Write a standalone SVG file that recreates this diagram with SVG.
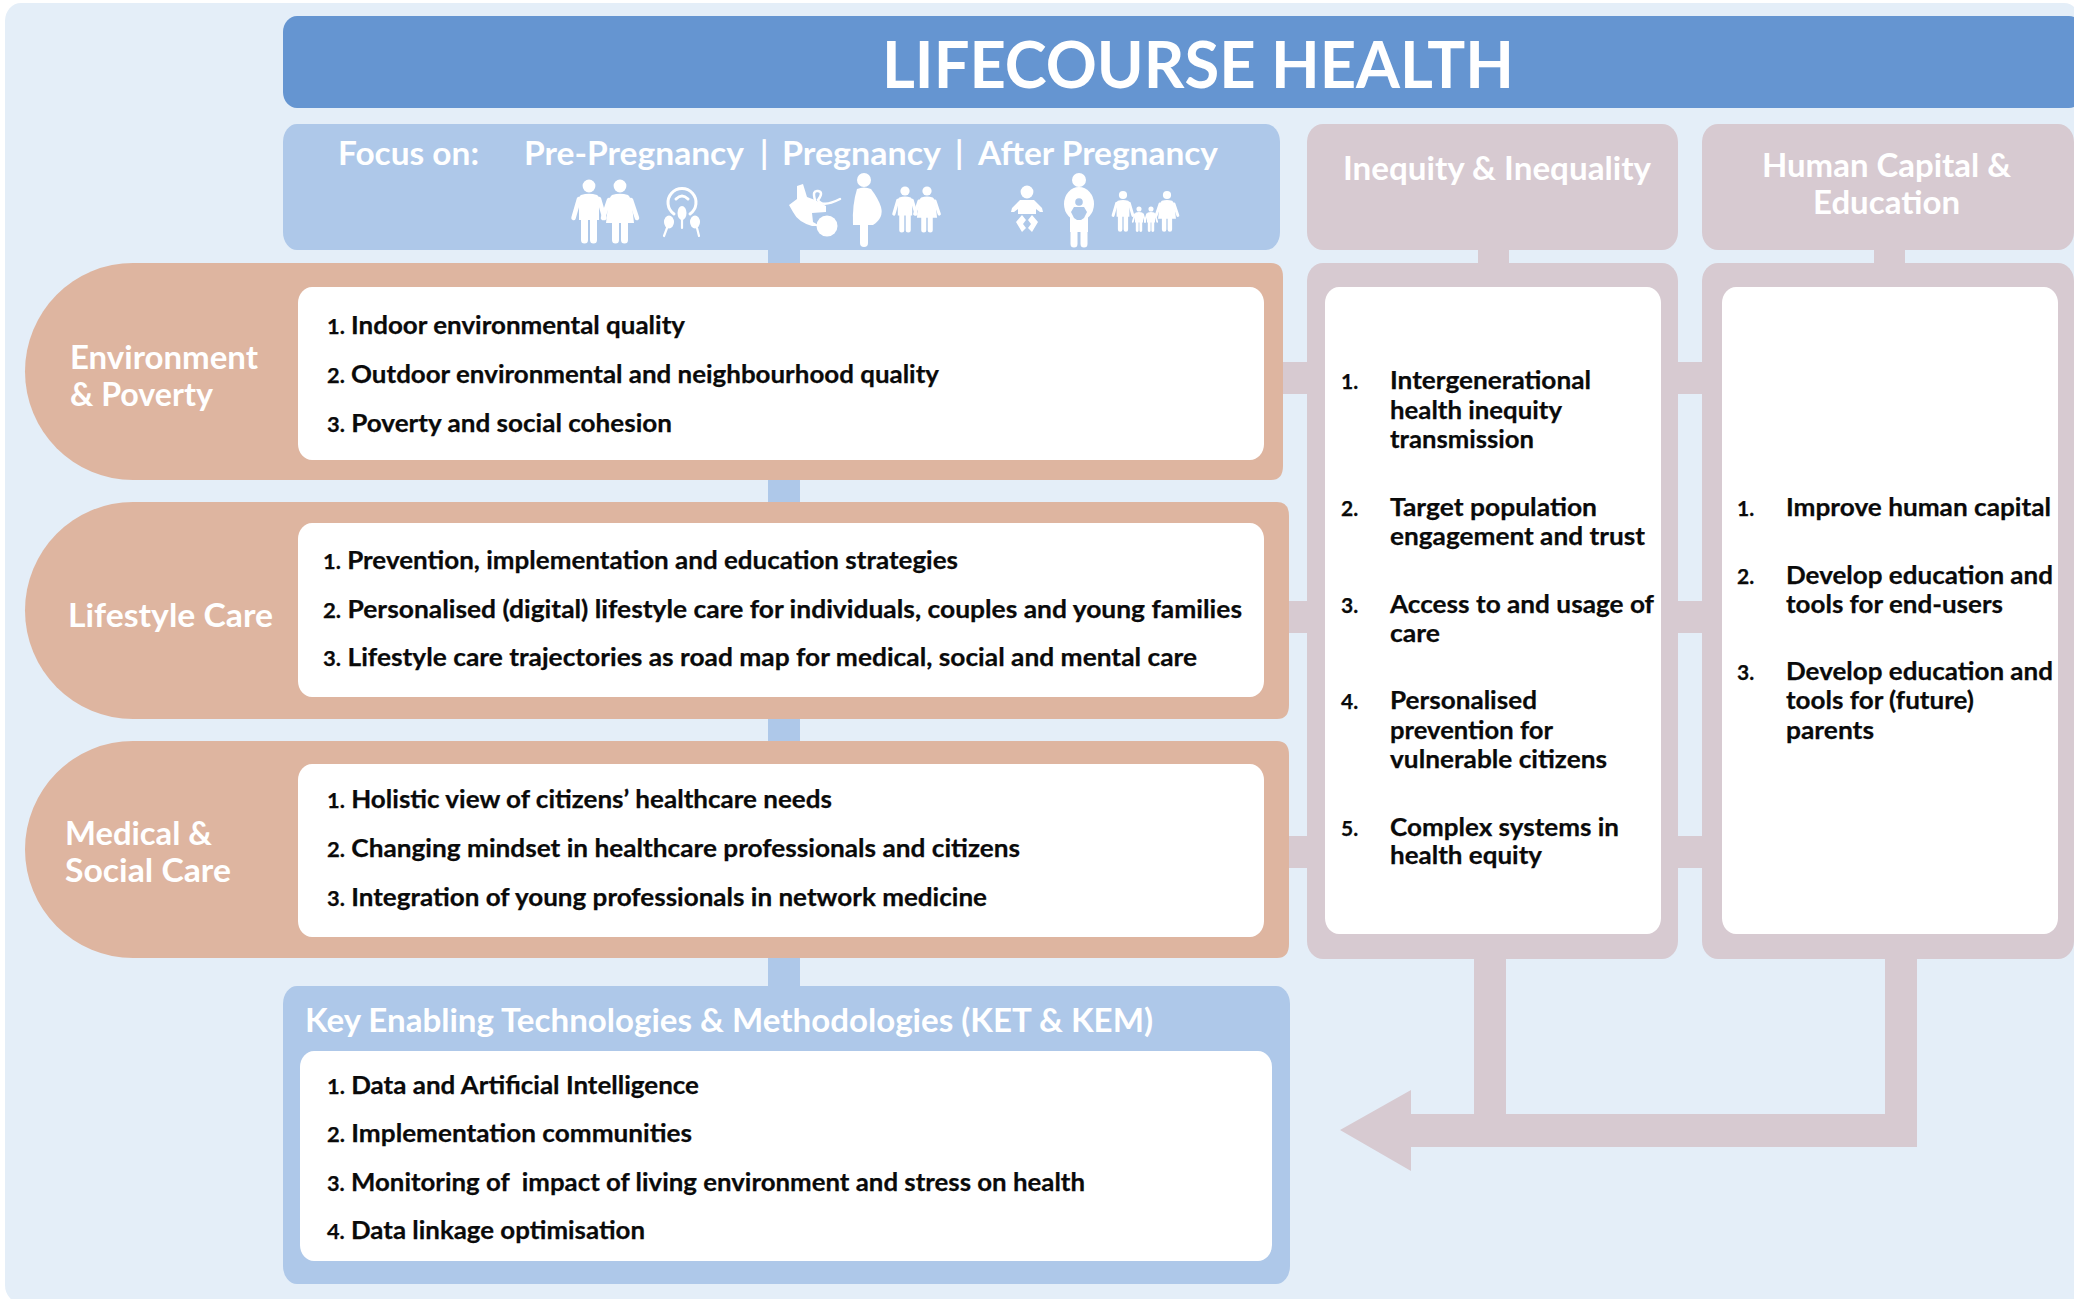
<svg xmlns="http://www.w3.org/2000/svg" xmlns:xlink="http://www.w3.org/1999/xlink" width="2074" height="1299" viewBox="0 0 2074 1299">
<style>
text{font-family:"Lato","Open Sans","Liberation Sans",sans-serif}
.it{font-size:25px;font-weight:700;fill:#0a0a0a;stroke:#0a0a0a;stroke-width:.25px;transform:translateY(.7px)}
.n{font-size:21px}
.hd{font-size:32px;font-weight:700;fill:#fff;transform:translateY(1.5px)}
.lb{font-size:33px;font-weight:700;fill:#fff;transform:translateY(1.2px)}
.pill{fill:#deb5a0}.bl{fill:#aec8e9}.mv{fill:#d7cad1}.wh{fill:#fff}
.ic{fill:#fff;stroke:none}
.ln{stroke:#fff;fill:none;stroke-linecap:round}
</style>
<defs>
<g id="man"><circle cx="0" cy="0" r="6.4" class="ic"/><path class="ic" d="M-8,9Q0,6.5 8,9Q10,10 10,14V34H-10V14Q-10,10-8,9Z"/><path class="ln" stroke-width="7" d="M-4.5,30V54M4.500,30V54"/><path class="ln" stroke-width="4.500" d="M-10,13L-15.500,32M10,13L15.500,32"/></g>
<g id="woman"><circle cx="0" cy="0" r="6.4" class="ic"/><path class="ic" d="M-8,9Q0,6.500 8,9Q11,11 12,20L14,37H-14L-12,20Q-11,11-8,9Z"/><path class="ln" stroke-width="7" d="M-4.500,34V54M4.500,34V54"/><path class="ln" stroke-width="4.500" d="M-11,14L-17,32M11,14L17,32"/></g>
</defs>
<rect width="2074" height="1299" fill="#fff"/>
<rect x="5" y="3" width="2075" height="1300" rx="16" ry="18" fill="#e4eef8"/>

<g id="connectors">
<rect class="bl" x="768" y="245" width="32" height="745"/>
<path class="mv" d="M1478,245H1509V270H1478ZM1874,245H1905V270H1874ZM1275,362H1312V394H1275ZM1275,601H1312V633H1275ZM1275,836H1312V868H1275ZM1672,362H1708V394H1672ZM1672,601H1708V633H1672ZM1672,836H1708V868H1672Z"/>
<path id="arrow" class="mv" d="M1340,1130L1411,1090V1114H1474V955H1506V1114H1885V955H1917V1147H1411V1171Z"/>
</g>

<g id="title"><rect x="283" y="16" width="1800" height="92" rx="14" ry="16" fill="#6595d1"/>
<text x="882" y="88" font-size="65" font-weight="700" fill="#fff" textLength="632" lengthAdjust="spacingAndGlyphs">LIFECOURSE HEALTH</text></g>

<g id="focus"><rect class="bl" x="283" y="124" width="997" height="126" rx="14" ry="18"/>
<text class="hd" x="338" y="163" textLength="141" lengthAdjust="spacingAndGlyphs">Focus on:</text>
<text class="hd" x="524" y="163" textLength="220" lengthAdjust="spacingAndGlyphs">Pre-Pregnancy</text>
<text class="hd" x="760" y="163">|</text>
<text class="hd" x="782" y="163" textLength="159" lengthAdjust="spacingAndGlyphs">Pregnancy</text>
<text class="hd" x="955" y="163">|</text>
<text class="hd" x="978" y="163" textLength="240" lengthAdjust="spacingAndGlyphs">After Pregnancy</text>
<g id="icons">
<use xlink:href="#man" href="#man" transform="translate(589,186)"/>
<use xlink:href="#woman" href="#woman" transform="translate(620,186)"/>
<path class="ln" stroke-width="3" d="M674,214A14,14 0 1 1 690,214M676,199Q682,193 688,199"/>
<ellipse class="ic" cx="682" cy="213" rx="4.500" ry="7"/><ellipse class="ic" cx="669" cy="222" rx="5" ry="6.500"/><ellipse class="ic" cx="695" cy="222" rx="5" ry="6.500"/>
<path class="ln" stroke-width="2.200" d="M682,218L682,228M667,228L664,236M697,228L699,236"/>
<path class="ic" d="M789,205L797,199L797,186L803,184L807,197L815,200L826,206L826,212L812,213L813,222L820,226L812,226Q798,222 793,212Z"/>
<circle class="ic" cx="827" cy="226" r="10.500"/>
<path class="ln" stroke-width="2.500" d="M815,200Q812,190 818,191Q824,192 818,200Q822,208 840,199"/>
<circle class="ic" cx="864" cy="180" r="7"/>
<path class="ic" d="M857,189Q864,186 871,189Q878,198 881,207Q884,218 873,225H853Q852,205 857,189Z"/>
<path class="ln" stroke-width="8" d="M864,224V243"/>
<path class="ln" stroke-width="1.200" stroke-opacity=".5" d="M864,193Q866,210 876,214"/>
<use xlink:href="#man" href="#man" transform="translate(905,191) scale(.72)"/>
<use xlink:href="#woman" href="#woman" transform="translate(927,191) scale(.72)"/>
<circle class="ic" cx="1027" cy="192" r="6.400"/>
<path class="ic" d="M1020,200H1034L1042,208L1043,212L1040,212L1036,209V214H1018V209L1014,212L1011,212L1012,208Z"/>
<path class="ic" d="M1016,222L1022,215L1026,220L1023,224L1026,228L1022,232ZM1038,222L1032,215L1028,220L1031,224L1028,228L1032,232Z"/>
<circle class="ic" cx="1079" cy="180" r="7"/>
<ellipse class="ic" cx="1079" cy="204" rx="15" ry="17"/>
<path class="ic" d="M1070,215H1088V232H1070Z"/>
<path class="ln" stroke-width="7" d="M1074,230V244M1084,230V244"/>
<circle cx="1079" cy="202" r="3.800" fill="#aec8e9"/>
<path fill="#aec8e9" d="M1074,207H1084L1087,212L1084,218L1081,220H1077L1074,218L1071,212Z"/>
<use xlink:href="#man" href="#man" transform="translate(1123,195) scale(.64)"/>
<use xlink:href="#woman" href="#woman" transform="translate(1167,195) scale(.64)"/>
<use xlink:href="#man" href="#man" transform="translate(1139,209) scale(.4)"/>
<use xlink:href="#man" href="#man" transform="translate(1151,209) scale(.4)"/>
</g></g>

<g id="inequity-header"><rect class="mv" x="1307" y="124" width="371" height="126" rx="16" ry="18"/>
<text class="hd" x="1343" y="178" textLength="308" lengthAdjust="spacingAndGlyphs">Inequity &amp; Inequality</text></g>
<g id="human-header"><rect class="mv" x="1702" y="124" width="372" height="126" rx="16" ry="18"/>
<text class="hd" x="1762" y="175" textLength="249" lengthAdjust="spacingAndGlyphs">Human Capital &amp;</text>
<text class="hd" x="1813" y="212" textLength="147" lengthAdjust="spacingAndGlyphs">Education</text></g>

<g id="environment"><path class="pill" d="M133,263H1271Q1283,263 1283,277V466Q1283,480 1271,480H133A108,108.500 0 0 1 133,263Z"/>
<text class="lb" x="70" y="368" textLength="188" lengthAdjust="spacingAndGlyphs">Environment</text>
<text class="lb" x="70" y="405" textLength="143" lengthAdjust="spacingAndGlyphs">&amp; Poverty</text>
<rect class="wh" x="298" y="287" width="966" height="173" rx="14" ry="16"/>
<text class="it" x="327" y="333" textLength="358" lengthAdjust="spacingAndGlyphs"><tspan class="n">1.</tspan> Indoor environmental quality</text>
<text class="it" x="327" y="382" textLength="612" lengthAdjust="spacingAndGlyphs"><tspan class="n">2.</tspan> Outdoor environmental and neighbourhood quality</text>
<text class="it" x="327" y="431" textLength="345" lengthAdjust="spacingAndGlyphs"><tspan class="n">3.</tspan> Poverty and social cohesion</text></g>

<g id="lifestyle"><path class="pill" d="M133,502H1277Q1289,502 1289,516V705Q1289,719 1277,719H133A108,108.500 0 0 1 133,502Z"/>
<text class="lb" x="68" y="626" textLength="205" lengthAdjust="spacingAndGlyphs">Lifestyle Care</text>
<rect class="wh" x="298" y="523" width="966" height="174" rx="14" ry="16"/>
<text class="it" x="323" y="568" textLength="635" lengthAdjust="spacingAndGlyphs"><tspan class="n">1.</tspan> Prevention, implementation and education strategies</text>
<text class="it" x="323" y="617" textLength="919" lengthAdjust="spacingAndGlyphs"><tspan class="n">2.</tspan> Personalised (digital) lifestyle care for individuals, couples and young families</text>
<text class="it" x="323" y="665" textLength="874" lengthAdjust="spacingAndGlyphs"><tspan class="n">3.</tspan> Lifestyle care trajectories as road map for medical, social and mental care</text></g>

<g id="medical"><path class="pill" d="M133,741H1277Q1289,741 1289,755V944Q1289,958 1277,958H133A108,108.500 0 0 1 133,741Z"/>
<text class="lb" x="65" y="844" textLength="147" lengthAdjust="spacingAndGlyphs">Medical &amp;</text>
<text class="lb" x="65" y="881" textLength="166" lengthAdjust="spacingAndGlyphs">Social Care</text>
<rect class="wh" x="298" y="764" width="966" height="173" rx="14" ry="16"/>
<text class="it" x="327" y="807" textLength="505" lengthAdjust="spacingAndGlyphs"><tspan class="n">1.</tspan> Holistic view of citizens’ healthcare needs</text>
<text class="it" x="327" y="856" textLength="693" lengthAdjust="spacingAndGlyphs"><tspan class="n">2.</tspan> Changing mindset in healthcare professionals and citizens</text>
<text class="it" x="327" y="905" textLength="660" lengthAdjust="spacingAndGlyphs"><tspan class="n">3.</tspan> Integration of young professionals in network medicine</text></g>

<g id="ket"><rect class="bl" x="283" y="986" width="1007" height="298" rx="14" ry="18"/>
<text class="hd" x="305" y="1030" textLength="848" lengthAdjust="spacingAndGlyphs">Key Enabling Technologies &amp; Methodologies (KET &amp; KEM)</text>
<rect class="wh" x="300" y="1051" width="972" height="210" rx="14" ry="16"/>
<text class="it" x="327" y="1093" textLength="372" lengthAdjust="spacingAndGlyphs"><tspan class="n">1.</tspan> Data and Artificial Intelligence</text>
<text class="it" x="327" y="1141" textLength="365" lengthAdjust="spacingAndGlyphs"><tspan class="n">2.</tspan> Implementation communities</text>
<text class="it" x="327" y="1190" textLength="758" lengthAdjust="spacingAndGlyphs" xml:space="preserve"><tspan class="n">3.</tspan> Monitoring of  impact of living environment and stress on health</text>
<text class="it" x="327" y="1238" textLength="318" lengthAdjust="spacingAndGlyphs"><tspan class="n">4.</tspan> Data linkage optimisation</text></g>

<g id="inequity"><rect class="mv" x="1307" y="263" width="371" height="696" rx="16" ry="18"/>
<rect class="wh" x="1325" y="287" width="336" height="647" rx="14" ry="16"/>
<text class="it n" x="1341" y="388">1.</text>
<text class="it" x="1390" y="388" textLength="201" lengthAdjust="spacingAndGlyphs">Intergenerational</text>
<text class="it" x="1390" y="418" textLength="172" lengthAdjust="spacingAndGlyphs">health inequity</text>
<text class="it" x="1390" y="447" textLength="144" lengthAdjust="spacingAndGlyphs">transmission</text>
<text class="it n" x="1341" y="515">2.</text>
<text class="it" x="1390" y="515" textLength="207" lengthAdjust="spacingAndGlyphs">Target population</text>
<text class="it" x="1390" y="544" textLength="255" lengthAdjust="spacingAndGlyphs">engagement and trust</text>
<text class="it n" x="1341" y="612">3.</text>
<text class="it" x="1390" y="612" textLength="264" lengthAdjust="spacingAndGlyphs">Access to and usage of</text>
<text class="it" x="1390" y="641" textLength="50" lengthAdjust="spacingAndGlyphs">care</text>
<text class="it n" x="1341" y="708">4.</text>
<text class="it" x="1390" y="708" textLength="147" lengthAdjust="spacingAndGlyphs">Personalised</text>
<text class="it" x="1390" y="738" textLength="163" lengthAdjust="spacingAndGlyphs">prevention for</text>
<text class="it" x="1390" y="767" textLength="217" lengthAdjust="spacingAndGlyphs">vulnerable citizens</text>
<text class="it n" x="1341" y="835">5.</text>
<text class="it" x="1390" y="835" textLength="229" lengthAdjust="spacingAndGlyphs">Complex systems in</text>
<text class="it" x="1390" y="863" textLength="152" lengthAdjust="spacingAndGlyphs">health equity</text></g>

<g id="human"><rect class="mv" x="1702" y="263" width="372" height="696" rx="16" ry="18"/>
<rect class="wh" x="1722" y="287" width="336" height="647" rx="14" ry="16"/>
<text class="it n" x="1737" y="515">1.</text>
<text class="it" x="1786" y="515" textLength="265" lengthAdjust="spacingAndGlyphs">Improve human capital</text>
<text class="it n" x="1737" y="583">2.</text>
<text class="it" x="1786" y="583" textLength="267" lengthAdjust="spacingAndGlyphs">Develop education and</text>
<text class="it" x="1786" y="612" textLength="217" lengthAdjust="spacingAndGlyphs">tools for end-users</text>
<text class="it n" x="1737" y="679">3.</text>
<text class="it" x="1786" y="679" textLength="267" lengthAdjust="spacingAndGlyphs">Develop education and</text>
<text class="it" x="1786" y="708" textLength="188" lengthAdjust="spacingAndGlyphs">tools for (future)</text>
<text class="it" x="1786" y="738" textLength="88" lengthAdjust="spacingAndGlyphs">parents</text></g>
</svg>
